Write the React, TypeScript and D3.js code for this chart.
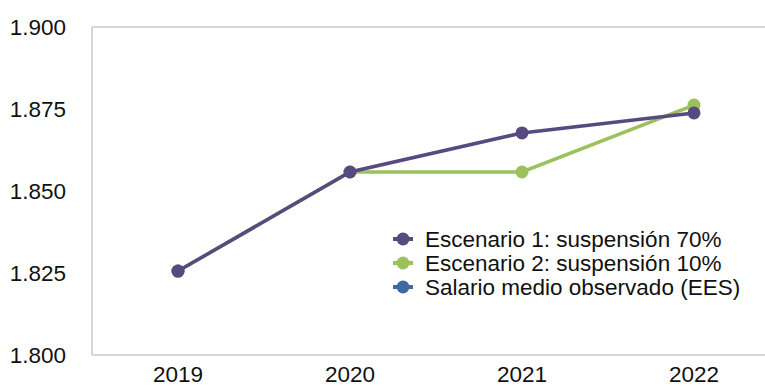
import React from "react";
import * as d3 from "d3";

const years = ["2019", "2020", "2021", "2022"];
const escenario1 = [1.8256, 1.8558, 1.8677, 1.8738];
const escenario2 = [1.8256, 1.8558, 1.8558, 1.8762];
const observado = [1.8256, null, null, null];
const yTicks = [1.8, 1.825, 1.85, 1.875, 1.9];

const seriesNames = [
  "Escenario 1: suspensión 70%",
  "Escenario 2: suspensión 10%",
  "Salario medio observado (EES)",
];
const colors = ["#574a80", "#9bc15c", "#3e6b9f"];

const W = 765;
const H = 386;
const left = 92;
const top = 27;
const bottom = 355;
const fontSize = 22.5;

const fmt = (v: number) => v.toFixed(3);

export default function App() {
  const x = d3.scaleBand<string>().domain(years).range([left, left + 172 * 4]);
  const y = d3.scaleLinear().domain([1.8, 1.9]).range([bottom, top]);
  const cx = (yr: string) => (x(yr) ?? 0) + x.bandwidth() / 2;

  const line = d3
    .line<[string, number | null]>()
    .defined((d) => d[1] !== null)
    .x((d) => cx(d[0]))
    .y((d) => y(d[1] as number));

  // Drawn back to front: observed, scenario 2, scenario 1
  const drawOrder = [
    { vals: observado, color: colors[2] },
    { vals: escenario2, color: colors[1] },
    { vals: escenario1, color: colors[0] },
  ];

  return (
    <svg
      width={W}
      height={H}
      style={{ position: "absolute", left: 0, top: 0, fontFamily: "Liberation Sans, Arial, sans-serif" }}
    >
      <rect width={W} height={H} fill="#fff" />
      {/* frame */}
      <line x1={left} x2={W} y1={top} y2={top} stroke="#c8c8c8" strokeWidth={1.5} />
      <line x1={left} x2={W} y1={bottom} y2={bottom} stroke="#c8c8c8" strokeWidth={1.5} />
      <line x1={left} x2={left} y1={top} y2={bottom} stroke="#c8c8c8" strokeWidth={1.5} />

      {yTicks.map((t) => (
        <text
          key={t}
          x={66}
          y={y(t)}
          dy="0.35em"
          textAnchor="end"
          fontSize={fontSize}
          fill="#111"
        >
          {fmt(t)}
        </text>
      ))}
      {years.map((yr) => (
        <text key={yr} x={cx(yr)} y={382} textAnchor="middle" fontSize={fontSize} fill="#111">
          {yr}
        </text>
      ))}

      {drawOrder.map((s, i) => {
        const pts = years.map((yr, j) => [yr, s.vals[j]] as [string, number | null]);
        return (
          <g key={i}>
            <path d={line(pts) ?? ""} fill="none" stroke={s.color} strokeWidth={3.5} />
            {pts
              .filter((p) => p[1] !== null)
              .map((p) => (
                <circle key={p[0]} cx={cx(p[0])} cy={y(p[1] as number)} r={6.5} fill={s.color} />
              ))}
          </g>
        );
      })}

      {/* legend */}
      {seriesNames.map((name, i) => {
        const ly = 239 + i * 24;
        return (
          <g key={name}>
            <line x1={393} x2={413} y1={ly} y2={ly} stroke={colors[i]} strokeWidth={4} />
            <circle cx={403} cy={ly} r={6.5} fill={colors[i]} />
            <text x={425} y={ly} dy="0.35em" fontSize={fontSize} fill="#111">
              {name}
            </text>
          </g>
        );
      })}
    </svg>
  );
}
